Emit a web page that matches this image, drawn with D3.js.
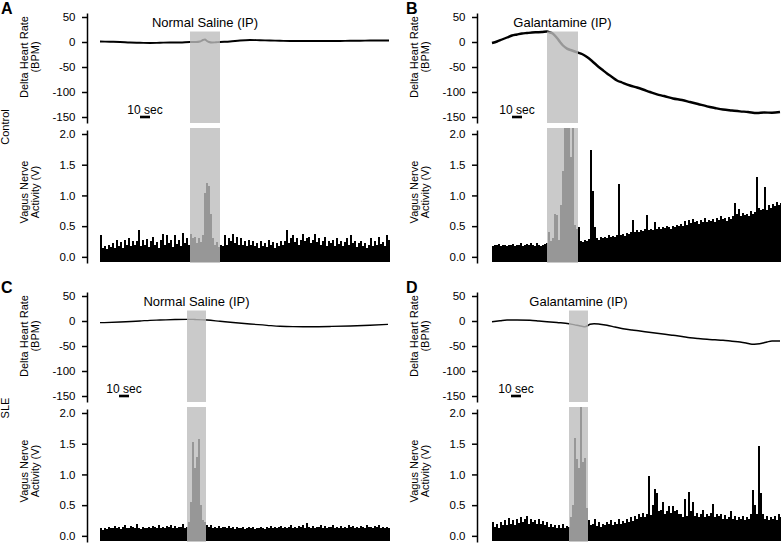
<!DOCTYPE html>
<html><head><meta charset="utf-8">
<script src="https://cdn.jsdelivr.net/npm/d3@7"></script>
<style>body{margin:0;background:#fff} svg{display:block} text{font-family:"Liberation Sans",Arial,sans-serif}</style>
</head><body><svg id="c" width="781" height="543"></svg>
<script>
// ---------- data ----------
const hrTicks = [50, 0, -50, -100, -150];
const hrTickLabels = ["50", "0", "-50", "-100", "-150"];
const vTicks = [0, 0.5, 1, 1.5, 2];
const vTickLabels = ["0.0", "0.5", "1.0", "1.5", "2.0"];
const panelLetters = ["A", "B", "C", "D"];
const treatments = ["Normal Saline (IP)", "Galantamine (IP)", "Normal Saline (IP)", "Galantamine (IP)"];
const groups = ["Control", "SLE"];
const bandStart = [90, 55, 87, 77];   // s
const bandEnd = [120, 86, 106, 96];   // s
const scaleBarStart = [40, 20, 19, 19]; // s
const scaleBarSeconds = 10;
const traceDuration = 289; // s
const vagusStep = 2;       // s per sample
const vagusFloor = -0.09;  // V

// heart rate [time s, delta BPM]
const hrA = [[0,1],[10,0.5],[20,0],[30,-1],[40,-1.5],[50,-2],[60,-1.5],[70,-1],[80,-1],[90,0],[96,0],[100,1],[103,4],[105,5],[107,2],[109,0],[112,-1],[116,-0.5],[120,0],[130,1],[140,3],[150,4],[160,3.5],[170,3],[180,2.5],[190,2],[200,2],[210,2],[220,2],[230,2],[240,2],[250,2.5],[260,2.5],[270,3],[280,3],[289,3]];
const hrB = [[0,-2],[5,1],[10,5],[15,9],[20,13],[25,15],[30,17],[35,18],[40,19],[45,19.5],[50,20],[55,21],[58,19],[61,16.7],[65,8],[68,0],[71,-7],[75,-13.3],[80,-17],[86,-21.3],[90,-24],[95,-30],[100,-38],[105,-47],[110,-55],[115,-63],[120,-70],[125,-77],[130,-81],[138,-87],[145,-91],[151,-95],[158,-100],[165,-104.7],[172,-108],[181,-113],[190,-116],[198,-120],[206,-124],[215,-128.7],[223,-132],[231,-135],[240,-137],[248,-138.7],[256,-140],[265,-142],[272,-141],[280,-141.5],[288,-140]];
const hrC = [[0,-3.3],[20,-2],[40,0],[50,1.4],[60,2],[75,3],[87,3.4],[95,3],[107,2],[120,-0.5],[133,-3],[150,-6],[167,-8.6],[180,-10.5],[193,-11.3],[210,-11.5],[230,-11],[250,-10],[270,-8.5],[288,-6.6]];
const hrD = [[0,-1.3],[8,0.5],[15,2],[25,2],[38,1.4],[47,0],[55,-1.3],[65,-3],[77,-5.3],[85,-8.6],[90,-10.5],[93,-11.3],[96,-9],[98,-6.6],[102,-5.3],[108,-6.5],[115,-8.6],[123,-12],[131,-15.3],[140,-18],[148,-20],[157,-22.5],[165,-24.6],[173,-26.5],[181,-28.6],[190,-31],[198,-33.3],[206,-35],[215,-36.6],[223,-37.6],[231,-38.6],[240,-40.5],[248,-42],[254,-44],[260,-46.6],[265,-46],[270,-44.5],[275,-42],[280,-40],[288,-40]];

// vagus nerve activity, V, one value every 2 s
const vagusA = [0.35,0.14,0.18,0.12,0.2,0.16,0.22,0.15,0.28,0.18,0.24,0.14,0.27,0.2,0.3,0.17,0.26,0.2,0.25,0.44,
0.18,0.27,0.2,0.29,0.16,0.26,0.33,0.2,0.24,0.15,0.28,0.37,0.19,0.35,0.22,0.27,0.16,0.36,0.21,0.28,
0.18,0.39,0.22,0.3,0.2,0.38,0.3,0.33,0.22,0.3,0.24,0.36,1.04,1.21,1.15,0.7,0.3,0.2,0.24,0.16,
0.2,0.17,0.35,0.2,0.3,0.26,0.38,0.22,0.33,0.2,0.3,0.19,0.26,0.18,0.27,0.2,0.25,0.17,0.23,0.15,
0.25,0.18,0.22,0.16,0.28,0.2,0.24,0.15,0.22,0.18,0.26,0.2,0.25,0.44,0.22,0.3,0.35,0.24,0.3,0.2,
0.28,0.37,0.25,0.3,0.33,0.22,0.28,0.38,0.24,0.3,0.2,0.26,0.32,0.18,0.25,0.22,0.28,0.17,0.3,0.21,
0.26,0.18,0.24,0.3,0.2,0.35,0.22,0.26,0.16,0.22,0.25,0.17,0.23,0.15,0.2,0.3,0.18,0.26,0.2,0.33,
0.21,0.24,0.17,0.35,0.28];
const vagusB = [0.18,0.2,0.19,0.21,0.18,0.2,0.19,0.17,0.2,0.19,0.21,0.18,0.2,0.19,0.22,0.18,0.2,0.21,0.19,0.23,
0.2,0.18,0.22,0.19,0.17,0.2,0.21,0.22,0.41,0.25,0.3,0.7,0.68,0.28,0.85,1.4,2.2,2.2,2.2,1.62,
2.2,0.52,0.45,0.48,0.25,0.24,0.27,0.25,0.29,1.74,1.07,0.48,0.3,0.28,0.32,0.3,0.33,0.31,0.35,0.32,
0.34,0.33,0.36,1.18,0.35,0.37,0.34,0.39,0.37,0.4,0.6,0.4,0.43,0.41,0.44,0.42,0.45,0.68,0.43,0.46,
0.44,0.57,0.45,0.48,0.46,0.49,0.47,0.5,0.48,0.46,0.5,0.49,0.52,0.5,0.53,0.51,0.58,0.52,0.6,0.55,
0.62,0.56,0.58,0.54,0.6,0.57,0.63,0.56,0.6,0.58,0.62,0.57,0.64,0.6,0.67,0.61,0.64,0.59,0.65,0.62,
0.66,0.88,0.7,0.78,0.67,0.72,0.68,0.7,0.66,0.75,0.7,0.73,1.3,0.8,0.76,0.78,1.13,0.77,0.84,0.8,
0.86,0.82,0.9,0.85,0.88];
const vagusC = [0.12,0.1,0.13,0.11,0.14,0.12,0.13,0.16,0.12,0.14,0.11,0.15,0.17,0.13,0.12,0.16,0.14,0.12,0.19,0.13,
0.11,0.14,0.12,0.13,0.15,0.12,0.16,0.14,0.13,0.17,0.12,0.15,0.13,0.16,0.14,0.18,0.12,0.16,0.13,0.15,
0.14,0.19,0.13,0.14,0.22,0.55,1.53,1.1,1.28,1.58,0.5,0.26,0.22,0.18,0.15,0.17,0.12,0.15,0.13,0.16,
0.12,0.14,0.15,0.12,0.16,0.13,0.14,0.11,0.15,0.13,0.12,0.14,0.11,0.13,0.15,0.12,0.14,0.11,0.13,0.12,
0.15,0.13,0.11,0.14,0.12,0.16,0.13,0.15,0.12,0.14,0.16,0.13,0.15,0.12,0.14,0.17,0.13,0.15,0.12,0.16,
0.14,0.18,0.13,0.21,0.15,0.13,0.16,0.12,0.15,0.14,0.17,0.13,0.16,0.12,0.15,0.14,0.18,0.13,0.15,0.12,
0.16,0.13,0.15,0.12,0.17,0.14,0.16,0.13,0.15,0.12,0.16,0.14,0.13,0.17,0.14,0.15,0.12,0.16,0.14,0.17,
0.13,0.15,0.12,0.14,0.13];
const vagusD = [0.22,0.15,0.2,0.13,0.22,0.17,0.25,0.18,0.29,0.2,0.26,0.17,0.28,0.21,0.3,0.22,0.27,0.32,0.2,0.28,
0.22,0.26,0.19,0.27,0.2,0.24,0.17,0.22,0.15,0.2,0.14,0.18,0.12,0.17,0.13,0.19,0.12,0.16,0.14,0.3,
0.5,1.6,1.25,1.1,2.2,1.2,1.27,0.45,0.25,0.18,0.2,0.27,0.16,0.22,0.15,0.2,0.17,0.23,0.19,0.25,
0.18,0.22,0.2,0.27,0.19,0.24,0.21,0.27,0.22,0.3,0.24,0.33,0.28,0.36,0.3,0.38,0.31,0.35,0.98,0.34,
0.5,0.76,0.7,0.4,0.42,0.55,0.35,0.4,0.48,0.38,0.49,0.4,0.42,0.36,0.35,0.3,0.6,0.33,0.71,0.4,
0.55,0.32,0.38,0.3,0.36,0.42,0.3,0.35,0.32,0.38,0.52,0.3,0.36,0.33,0.35,0.28,0.34,0.27,0.31,0.4,
0.28,0.33,0.26,0.3,0.27,0.32,0.25,0.3,0.27,0.35,0.75,0.5,0.35,1.47,0.7,0.35,0.28,0.32,0.25,0.3,
0.27,0.33,0.26,0.35,0.3];

const hrSeries = [hrA, hrB, hrC, hrD];
const vagusSeries = [vagusA, vagusB, vagusC, vagusD];

// ---------- layout / style ----------
const colAxisX = [87, 477];
const colTraceX = [100, 492];
const rowDY = [0, 279];
const hrLineWidth = [1.9, 2.4, 1.3, 1.5];
const FONT = '"Liberation Sans", Arial, sans-serif';

const svg = d3.select("#c");
const defs = svg.append("defs");

function styleAxis(sel) {
  sel.attr("font-family", FONT).attr("font-size", "11.5px");
  sel.select(".domain").attr("stroke", "#000").attr("stroke-width", 1.5);
  sel.selectAll(".tick line").attr("stroke", "#000").attr("stroke-width", 1.5);
  sel.selectAll(".tick text").attr("fill", "#000");
}

panelLetters.forEach((letter, i) => {
  const col = i % 2, row = Math.floor(i / 2);
  const dy = rowDY[row];
  const ax = colAxisX[col], tx = colTraceX[col];
  const x = d3.scaleLinear().domain([0, traceDuration]).range([tx, tx + traceDuration]);
  const yH = d3.scaleLinear().domain([-162, 58]).range([123 + dy, 13 + dy]);
  const yV = d3.scaleLinear().domain([-0.1, 2.065]).range([263 + dy, 130 + dy]);
  const g = svg.append("g");

  // heart rate trace
  g.append("path").datum(hrSeries[i])
    .attr("fill", "none").attr("stroke", "#000")
    .attr("stroke-width", hrLineWidth[i]).attr("stroke-linejoin", "round")
    .attr("d", d3.line().curve(d3.curveMonotoneX).x(d => x(d[0])).y(d => yH(d[1])));

  // vagus trace
  defs.append("clipPath").attr("id", "clip" + i).append("rect")
    .attr("x", tx - 2).attr("width", traceDuration + 4)
    .attr("y", 128 + dy).attr("height", 140);
  g.append("g").attr("clip-path", `url(#clip${i})`).attr("shape-rendering", "crispEdges")
    .selectAll("rect").data(vagusSeries[i]).join("rect")
    .attr("x", (d, j) => x(j * vagusStep))
    .attr("width", x(vagusStep) - x(0))
    .attr("y", d => yV(d))
    .attr("height", d => yV(vagusFloor) - yV(d))
    .attr("fill", "#000");

  // injection band (overlay)
  const bx = x(bandStart[i]), bw = x(bandEnd[i]) - x(bandStart[i]);
  g.append("rect").attr("x", bx).attr("width", bw)
    .attr("y", yH(21)).attr("height", yH(-162) - yH(21))
    .attr("fill", "#bdbdbd").attr("opacity", 0.8);
  g.append("rect").attr("x", bx).attr("width", bw)
    .attr("y", 128 + dy).attr("height", yV(-0.1) - (128 + dy))
    .attr("fill", "#bdbdbd").attr("opacity", 0.8);

  // title
  g.append("text").attr("x", bx + bw / 2).attr("y", 27 + dy)
    .attr("text-anchor", "middle").attr("font-size", "13px").text(treatments[i]);

  // scale bar
  const sx0 = x(scaleBarStart[i]), sx1 = x(scaleBarStart[i] + scaleBarSeconds);
  g.append("rect").attr("x", sx0).attr("width", sx1 - sx0)
    .attr("y", yH(-150) - 1.3).attr("height", 2.6).attr("fill", "#000");
  g.append("text").attr("x", (sx0 + sx1) / 2).attr("y", yH(-150) - 3)
    .attr("text-anchor", "middle").attr("font-size", "12px").text("10 sec");

  // axes
  const aH = g.append("g").attr("transform", `translate(${ax},0)`)
    .call(d3.axisLeft(yH).tickValues(hrTicks).tickFormat((d, k) => hrTickLabels[k])
      .tickSize(5).tickSizeOuter(0).tickPadding(6.5));
  styleAxis(aH);
  const aV = g.append("g").attr("transform", `translate(${ax},0)`)
    .call(d3.axisLeft(yV).tickValues(vTicks).tickFormat((d, k) => vTickLabels[k])
      .tickSize(5).tickSizeOuter(0).tickPadding(6.5));
  styleAxis(aV);

  // axis titles
  const lab = (lx, ly, t) => g.append("text")
    .attr("transform", `translate(${lx},${ly}) rotate(-90)`)
    .attr("text-anchor", "middle").attr("font-size", "11px").text(t);
  lab(ax - 59, 57 + dy, "Delta Heart Rate");
  lab(ax - 48.5, 57 + dy, "(BPM)");
  lab(ax - 59, 192 + dy, "Vagus Nerve");
  lab(ax - 48.5, 192 + dy, "Activity (V)");

  // panel letter
  g.append("text").attr("x", col ? 406 : 1).attr("y", 13.5 + dy)
    .attr("font-size", "16px").attr("font-weight", "bold").text(letter);
});

groups.forEach((t, r) => {
  svg.append("text").attr("transform", `translate(9,${127 + rowDY[r] + (r ? 2 : 0)}) rotate(-90)`)
    .attr("text-anchor", "middle").attr("font-size", "11px")
    .attr("font-family", FONT).text(t);
});
</script></body></html>
